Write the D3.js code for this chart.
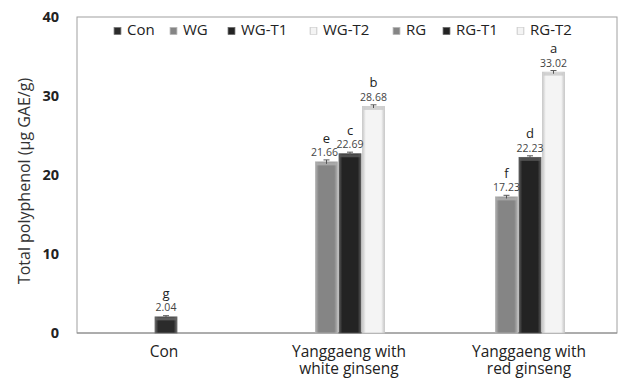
<!DOCTYPE html>
<html><head><meta charset="utf-8">
<script src="https://cdn.jsdelivr.net/npm/d3@7/dist/d3.min.js"></script>
<style>body{margin:0;background:#fff}svg{display:block}</style>
</head><body><svg id="c" width="621" height="378"></svg>
<script>
const categories = ["Con", "Yanggaeng with|white ginseng", "Yanggaeng with|red ginseng"];
const seriesNames = ["Con", "WG", "WG-T1", "WG-T2", "RG", "RG-T1", "RG-T2"];
const seriesColors = ["#2b2b2b", "#858585", "#232323", "#f4f4f4", "#858585", "#232323", "#f4f4f4"];
const seriesEdge = ["#6a6a6a", "#b0b0b0", "#5a5a5a", "#c8c8c8", "#b0b0b0", "#5a5a5a", "#c8c8c8"];
const barCategory = [0, 1, 1, 1, 2, 2, 2];
const barValues = [2.04, 21.66, 22.69, 28.68, 17.23, 22.23, 33.02];
const barErrors = [0.15, 0.25, 0.2, 0.2, 0.2, 0.2, 0.2];
const barLetters = ["g", "e", "c", "b", "f", "d", "a"];
const yTicks = [0, 10, 20, 30, 40];

const svg = d3.select("#c");
const m = {l: 77, r: 617, t: 17, b: 333};
const font = "'Open Sans','Noto Sans',sans-serif";

const x = d3.scaleBand().domain(d3.range(categories.length)).range([m.l, m.r]).padding(0);
const y = d3.scaleLinear().domain([0, 40]).range([m.b, m.t]);
const slot = 23.5, bw = 22;

// frame
svg.append("rect").attr("x", m.l).attr("y", m.t).attr("width", m.r - m.l).attr("height", m.b - m.t)
  .attr("fill", "none").attr("stroke", "#a0a0a0").attr("stroke-width", 1);
svg.append("line").attr("x1", m.l).attr("x2", m.r).attr("y1", m.b).attr("y2", m.b).attr("stroke", "#8a8a8a");

// y ticks
svg.selectAll(".yt").data(yTicks).enter().append("text")
  .attr("x", 59).attr("y", d => y(d)).attr("dy", "0.36em").attr("text-anchor", "end")
  .attr("font-family", font).attr("font-weight", "bold").attr("font-size", 14.5).attr("fill", "#222")
  .text(d => d);

// y title
svg.append("text").attr("transform", "translate(24,181) rotate(-90)").attr("text-anchor", "middle")
  .attr("dy", "0.35em").attr("font-family", font).attr("font-size", 16).attr("fill", "#333")
  .text("Total polyphenol (µg GAE/g)");

// category labels
categories.forEach((c, i) => {
  const lines = c.split("|");
  const t = svg.append("text").attr("text-anchor", "middle").attr("font-family", font)
    .attr("font-size", 15.5).attr("fill", "#222");
  lines.forEach((ln, j) => t.append("tspan").attr("x", x(i) + x.bandwidth() / 2 + (i === 0 ? -3 : 2))
    .attr("y", 357 + j * 16.5).text(ln));
});

// gradients
const defs = svg.append("defs");
seriesNames.forEach((s, i) => {
  const g = defs.append("linearGradient").attr("id", "g" + i).attr("x1", 0).attr("x2", 1).attr("y1", 0).attr("y2", 0);
  g.append("stop").attr("offset", "0").attr("stop-color", seriesEdge[i]);
  g.append("stop").attr("offset", "0.15").attr("stop-color", seriesColors[i]);
  g.append("stop").attr("offset", "0.85").attr("stop-color", seriesColors[i]);
  g.append("stop").attr("offset", "1").attr("stop-color", seriesEdge[i]);
});

// bar positions
const barX = barValues.map((v, i) => {
  const c = barCategory[i];
  const members = barCategory.map((cc, k) => cc === c ? k : -1).filter(k => k >= 0);
  const idx = members.indexOf(i);
  const center = x(c) + x.bandwidth() / 2 + (c === 0 ? -1 : 3);
  return center + (idx - (members.length - 1) / 2) * slot - bw / 2;
});

const bars = svg.append("g");
barValues.forEach((v, i) => {
  const bx = barX[i], top = y(v), h = y(0) - top;
  bars.append("rect").attr("x", bx).attr("y", top).attr("width", bw).attr("height", h)
    .attr("fill", "url(#g" + i + ")").attr("stroke", seriesEdge[i]).attr("stroke-width", 0.8);
  bars.append("rect").attr("x", bx + 1).attr("y", top + 0.5).attr("width", bw - 2).attr("height", 3)
    .attr("fill", seriesEdge[i]).attr("opacity", 0.8);
  // error bar
  const e = barErrors[i], cx = bx + bw / 2;
  bars.append("line").attr("x1", cx).attr("x2", cx).attr("y1", y(v + e)).attr("y2", y(v - e)).attr("stroke", "#555");
  bars.append("line").attr("x1", cx - 3).attr("x2", cx + 3).attr("y1", y(v + e)).attr("y2", y(v + e)).attr("stroke", "#555");
  // labels
  svg.append("text").attr("x", cx - (i === 1 ? 2 : 0)).attr("y", top - 5.5).attr("text-anchor", "middle")
    .attr("font-family", font).attr("font-size", 10.5).attr("fill", "#444").text(v.toFixed(2));
  svg.append("text").attr("x", cx).attr("y", top - 19).attr("text-anchor", "middle")
    .attr("font-family", font).attr("font-size", 13).attr("fill", "#222").text(barLetters[i]);
});

// legend
const legX = [114, 170, 228, 310, 393, 443, 517];
seriesNames.forEach((s, i) => {
  svg.append("rect").attr("x", legX[i]).attr("y", 27.5).attr("width", 7).attr("height", 7)
    .attr("fill", "url(#g" + i + ")").attr("stroke", seriesEdge[i]).attr("stroke-width", 0.6);
  svg.append("text").attr("x", legX[i] + 13).attr("y", 30).attr("dy", "0.36em")
    .attr("font-family", font).attr("font-size", 15).attr("fill", "#222").text(s);
});
</script></body></html>
